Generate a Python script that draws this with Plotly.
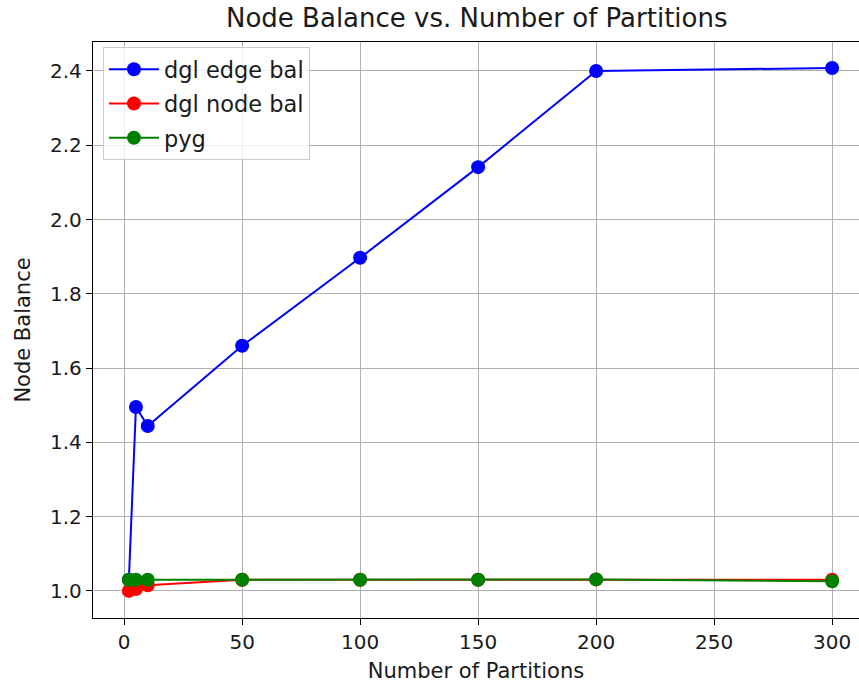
import plotly.graph_objects as go

partitions = [2, 5, 10, 50, 100, 150, 200, 300]
dgl_edge_bal = [1.03, 1.495, 1.444, 1.66, 1.897, 2.141, 2.40, 2.408]
dgl_node_bal = [1.0, 1.005, 1.015, 1.03, 1.03, 1.03, 1.031, 1.03]
pyg = [1.03, 1.03, 1.03, 1.03, 1.03, 1.03, 1.031, 1.026]

series = [
    ("dgl edge bal", dgl_edge_bal, "#0000ff"),
    ("dgl node bal", dgl_node_bal, "#ff0000"),
    ("pyg", pyg, "#008000"),
]

fig = go.Figure()
for name, ys, color in series:
    fig.add_trace(go.Scatter(
        x=partitions, y=ys, name=name, mode="lines+markers", legendgroup=name,
        line=dict(color=color, width=2),
        marker=dict(color=color, size=14),
    ))

font = "DejaVu Sans"
txt = "#1a1a1a"
fig.update_layout(
    width=859, height=683,
    margin=dict(l=93, r=0, t=42, b=65),
    paper_bgcolor="white", plot_bgcolor="white",
    font=dict(family=font, size=20, color=txt),
    title=dict(text="Node Balance vs. Number of Partitions", x=0.555, xanchor="center",
               y=0.974, yanchor="middle", font=dict(size=26, color=txt)),
    legend=dict(x=0.013, y=0.991, xanchor="left", yanchor="top",
                bgcolor="rgba(255,255,255,0.8)", bordercolor="#cccccc", borderwidth=1,
                font=dict(size=22.5), itemwidth=50, tracegroupgap=2, traceorder="grouped"),
    showlegend=True,
)
fig.update_xaxes(
    range=[-13.2, 311.4], tickvals=[0, 50, 100, 150, 200, 250, 300],
    showgrid=True, gridcolor="#b0b0b0", gridwidth=1,
    showline=True, linecolor="black", linewidth=1.3, mirror=True,
    ticks="outside", ticklen=6, tickcolor="black", zeroline=False,
    tickfont=dict(size=20),
    title=dict(text="Number of Partitions", font=dict(size=21), standoff=10),
)
fig.update_yaxes(
    range=[0.927, 2.478], tickvals=[1.0, 1.2, 1.4, 1.6, 1.8, 2.0, 2.2, 2.4],
    tickformat=".1f",
    showgrid=True, gridcolor="#b0b0b0", gridwidth=1,
    showline=True, linecolor="black", linewidth=1.3, mirror=True,
    ticks="outside", ticklen=6, tickcolor="black", zeroline=False,
    tickfont=dict(size=20),
    title=dict(text="Node Balance", font=dict(size=21), standoff=13),
)
fig.write_html("out.html")
